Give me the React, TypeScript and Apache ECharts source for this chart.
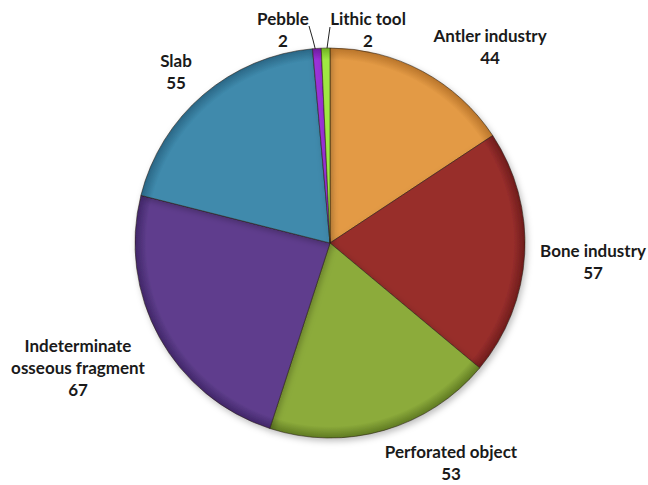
import React, { useEffect, useRef } from "react";
import * as echarts from "echarts";

const categories = [
  "Antler industry",
  "Bone industry",
  "Perforated object",
  "Indeterminate osseous fragment",
  "Slab",
  "Pebble",
  "Lithic tool",
];
const counts = [44, 57, 53, 67, 55, 2, 2];
const labelNames = [
  "Antler industry",
  "Bone industry",
  "Perforated object",
  "Indeterminate\nosseous fragment",
  "Slab",
  "Pebble",
  "Lithic tool",
];
const colors = ["#E39A45", "#982E2C", "#8CAB3B", "#5F3E8D", "#3F8AAC", "#9B30D8", "#9FE842"];
const edgeColors = ["#B8742A", "#6E1C1B", "#5F7A22", "#402668", "#2A6685", "#6C1C9E", "#6FB020"];

// label layout (block centre, page px)
const labelPos: Record<string, [number, number]> = {
  "Antler industry": [490, 46],
  "Bone industry": [593, 261],
  "Perforated object": [451, 462],
  "Indeterminate osseous fragment": [78, 367],
  Slab: [176, 71],
  Pebble: [283, 29],
  "Lithic tool": [368, 29],
};
const leaderLines: Record<string, number[][]> = {
  Pebble: [[309, 26], [313, 40], [317, 56]],
  "Lithic tool": [[330, 27], [328, 41], [326, 56]],
};

export default function App() {
  const ref = useRef<HTMLDivElement>(null);
  useEffect(() => {
    if (!ref.current) return;
    const chart = echarts.init(ref.current, null, { renderer: "svg" });
    const data = categories.map((name, i) => ({
      name,
      value: counts[i],
      itemStyle: {
        color: {
          type: "radial",
          x: 330,
          y: 243,
          r: 195,
          global: true,
          colorStops: [
            { offset: 0, color: colors[i] },
            { offset: 0.94, color: colors[i] },
            { offset: 1, color: edgeColors[i] },
          ],
        },
      },
      label: { formatter: labelNames[i] + "\n" + counts[i] },
      labelLine: { show: !!leaderLines[name] },
    }));
    chart.setOption({
      animation: false,
      series: [
        {
          type: "pie",
          center: [330, 243],
          radius: 195,
          startAngle: 90,
          clockwise: true,
          data,
          itemStyle: {
            borderColor: "rgba(40,30,20,0.55)",
            borderWidth: 1,
            shadowBlur: 6,
            shadowOffsetX: 2,
            shadowOffsetY: 3,
            shadowColor: "rgba(0,0,0,0.25)",
          },
          label: {
            show: true,
            position: "outside",
            color: "#1a1a1a",
            fontFamily: "Lato",
            fontWeight: "bold",
            fontSize: 17,
            lineHeight: 22,
            align: "center",
            overflow: "none",
          },
          labelLine: {
            show: false,
            lineStyle: { color: "#222", width: 1 },
          },
          labelLayout: (params: any) => {
            const name = categories[params.dataIndex];
            const p = labelPos[name];
            const out: any = { x: p[0], y: p[1], align: "center", verticalAlign: "middle" };
            if (leaderLines[name]) out.labelLinePoints = leaderLines[name];
            return out;
          },
        },
      ],
    });
    return () => chart.dispose();
  }, []);
  return (
    <div
      ref={ref}
      style={{ position: "absolute", left: 0, top: 0, width: 648, height: 485, background: "#fff" }}
    />
  );
}
